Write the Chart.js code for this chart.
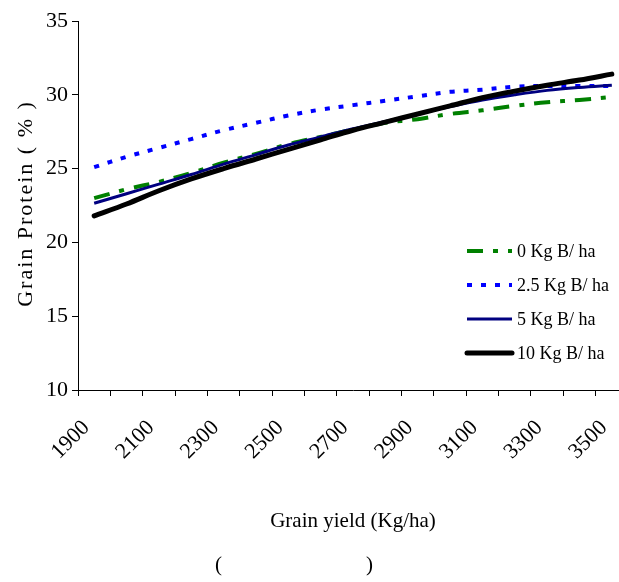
<!DOCTYPE html>
<html>
<head>
<meta charset="utf-8">
<script src="https://cdn.jsdelivr.net/npm/chart.js@4.4.1/dist/chart.umd.min.js"></script>
<style>
html,body{margin:0;padding:0;overflow:hidden;background:#fff;width:619px;height:582px}
#wrap{position:absolute;left:0;top:0;width:640px;height:582px}
</style>
</head>
<body>
<div id="wrap"><canvas id="c" width="640" height="582"></canvas></div>
<script>
// ---- data ----
const categories = ['1900','2000','2100','2200','2300','2400','2500','2600','2700','2800','2900','3000','3100','3200','3300','3400','3500'];
const tickLabels = ['1900','','2100','','2300','','2500','','2700','','2900','','3100','','3300','','3500'];
const yTicks = [10, 15, 20, 25, 30, 35];
const seriesNames = ['0 Kg B/ ha', '2.5 Kg B/ ha', '5 Kg B/ ha', '10 Kg B/ ha'];
const boron0   = [23.0, 23.6, 24.1, 24.7, 25.4, 26.0, 26.65, 27.15, 27.65, 28.1, 28.35, 28.7, 28.95, 29.25, 29.5, 29.65, 29.85];
const boron2_5 = [25.1, 25.8, 26.4, 27.0, 27.6, 28.1, 28.6, 29.0, 29.3, 29.6, 29.9, 30.2, 30.35, 30.55, 30.6, 30.6, 30.6];
const boron5   = [22.65, 23.3, 23.95, 24.6, 25.3, 25.95, 26.6, 27.15, 27.7, 28.2, 28.7, 29.2, 29.65, 30.0, 30.3, 30.5, 30.65];
const boron10  = [21.8, 22.6, 23.5, 24.3, 25.0, 25.65, 26.3, 26.95, 27.6, 28.15, 28.7, 29.25, 29.8, 30.25, 30.65, 31.0, 31.4];
const xTitle = 'Grain yield (Kg/ha)';
const yTitle = 'Grain Protein ( % )';
const noteLeft = '(';
const noteRight = ')';

const FONT = "'Liberation Serif', 'Times New Roman', serif";
Chart.defaults.font.family = FONT;
Chart.defaults.color = '#000';

const overlay = {
  id: 'overlay',
  afterDraw(chart) {
    const ctx = chart.ctx, ca = chart.chartArea;
    // y axis title with letter spacing
    ctx.save();
    ctx.fillStyle = '#000';
    ctx.font = "22px " + FONT;
    try { ctx.letterSpacing = '2px'; } catch (e) {}
    ctx.textAlign = 'center';
    ctx.textBaseline = 'middle';
    ctx.translate(26, (ca.top + ca.bottom) / 2 - 2);
    ctx.rotate(-Math.PI / 2);
    ctx.fillText(yTitle, 0, 0);
    ctx.restore();

    // legend inside plot
    ctx.save();
    const lx0 = 467, lx1 = 512, tx = 517, ly0 = 251, ldy = 34;
    ctx.font = "18px " + FONT;
    ctx.textAlign = 'left';
    ctx.textBaseline = 'middle';
    chart.data.datasets.forEach((ds, i) => {
      const y = ly0 + i * ldy;
      ctx.save();
      ctx.strokeStyle = ds.borderColor;
      ctx.lineWidth = ds.borderWidth;
      ctx.lineCap = ds.borderCapStyle || 'butt';
      ctx.setLineDash(ds.borderDash || []);
      ctx.beginPath();
      ctx.moveTo(lx0, y);
      ctx.lineTo(lx1, y);
      ctx.stroke();
      ctx.restore();
      ctx.fillStyle = '#000';
      ctx.fillText(ds.label, tx, y + 1);
    });
    ctx.restore();

    // bottom note
    ctx.save();
    ctx.fillStyle = '#000';
    ctx.font = "21px " + FONT;
    ctx.textBaseline = 'middle';
    ctx.textAlign = 'left';
    ctx.fillText(noteLeft, 215, 565);
    ctx.textAlign = 'right';
    ctx.fillText(noteRight, 373, 565);
    ctx.restore();
  }
};

new Chart(document.getElementById('c'), {
  type: 'line',
  data: {
    labels: categories,
    datasets: [
      { label: seriesNames[0], data: boron0, borderColor: '#008000', borderWidth: 4, borderDash: [16, 10, 5, 10], order: 4 },
      { label: seriesNames[1], data: boron2_5, borderColor: '#0000FF', borderWidth: 4, borderDash: [5, 9], order: 3 },
      { label: seriesNames[2], data: boron5, borderColor: '#000080', borderWidth: 3, order: 2 },
      { label: seriesNames[3], data: boron10, borderColor: '#000000', borderWidth: 5, borderCapStyle: 'round', order: 1 }
    ]
  },
  options: {
    responsive: false,
    animation: false,
    events: [],
    elements: { point: { radius: 0 }, line: { tension: 0.35, fill: false } },
    layout: { padding: { left: 0, top: 21, right: 12, bottom: 0 } },
    plugins: { legend: { display: false }, tooltip: { enabled: false } },
    scales: {
      x: {
        type: 'category',
        offset: true,
        grid: { offset: true, drawOnChartArea: false, tickLength: 6, color: '#000', lineWidth: 1 },
        border: { color: '#000', width: 1 },
        ticks: {
          autoSkip: false, maxRotation: 45, minRotation: 45,
          font: { size: 22 }, color: '#000', padding: 19, labelOffset: -8,
          callback: (v, i) => tickLabels[i]
        },
        title: { display: true, text: xTitle, font: { size: 21 }, color: '#000', padding: { top: 0, bottom: 48 } },
        afterFit: s => { s.height = 192; s.paddingRight = 0; s.paddingLeft = 0; }
      },
      y: {
        min: 10, max: 35,
        grid: { drawOnChartArea: false, tickLength: 6, color: '#000', lineWidth: 1 },
        border: { color: '#000', width: 1 },
        ticks: { font: { size: 22 }, color: '#000', padding: 4, stepSize: 5 },
        afterBuildTicks: s => { s.ticks = yTicks.map(v => ({ value: v })); },
        afterFit: s => { s.width = 78; s.paddingTop = 0; s.paddingBottom = 0; }
      }
    }
  },
  plugins: [overlay]
});
</script>
</body>
</html>
